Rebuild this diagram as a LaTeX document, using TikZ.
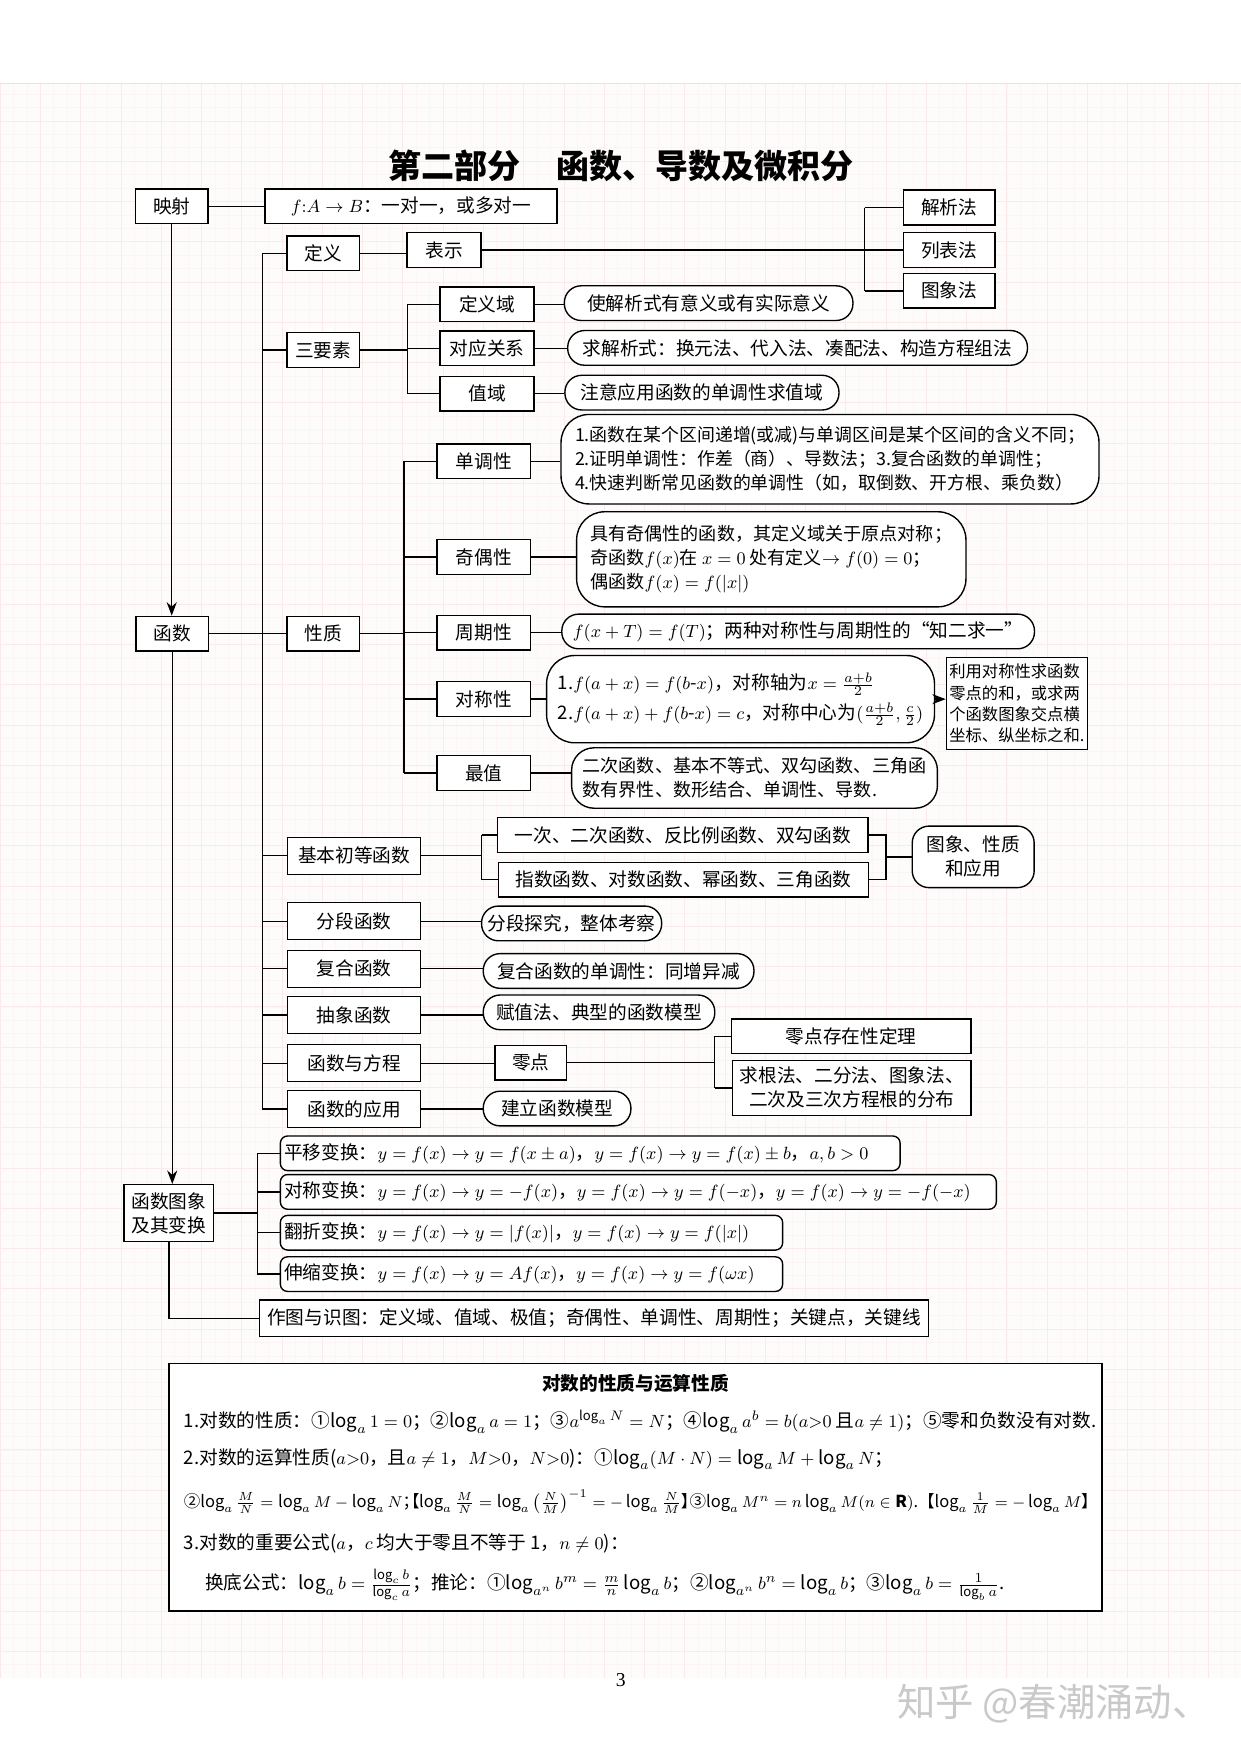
\documentclass[tikz,border=0pt]{standalone}
\usepackage{amsmath}
\usepackage{amssymb}
\usepackage{fontspec}
\setmainfont{Noto Sans CJK SC}
\newfontfamily\cjkpalt[RawFeature=+palt]{Noto Sans CJK SC}
\newfontfamily\serifdigits{Liberation Serif}
\usetikzlibrary{arrows.meta}
\newcommand{\lbk}{{\cjkpalt 【}}
\newcommand{\rbk}{{\cjkpalt 】}}
\newcommand{\semi}{{\cjkpalt ；}}
\tikzset{
    plain-box/.style = {draw=black, fill=white, line width=0.7pt, rectangle, inner sep=1pt, minimum width=#1*0.2mm, minimum height=31*0.2mm},
    pill-box/.style = {plain-box=#1, rounded corners=3mm, align=left, inner xsep=2mm},
    soft-box/.style = {plain-box=#1, rounded corners=1.3mm, anchor=west, inner xsep=2pt, align=left},
    tall/.style = {minimum height=#1*0.2mm},
    link/.style = {line width=0.7pt},
    link-arrow/.style = {link, -{Stealth[length=2.4mm, width=1.8mm]}},
    page-tint/.style = {fill={rgb,255:red,254;green,251;blue,251}},
    grid-minor/.style = {draw={rgb,255:red,253;green,244;blue,245}, line width=0.25pt},
    grid-major/.style = {draw={rgb,255:red,250;green,234;blue,236}, line width=0.3pt},
}

\begin{document}
\begin{tikzpicture}[x=0.2mm, y=-0.2mm, font=\fontsize{9.5}{12.2}\selectfont]
\useasboundingbox (0,0) rectangle (1109,1568);
\fill[white] (0,0) rectangle (1109,1568);
\fill[page-tint] (0,75) rectangle (1109,1500);
\draw[grid-minor, step=2.4mm] (0,75) grid (1109,1500);
\draw[grid-major, step=7.2mm] (0,75) grid (1109,1500);
\draw[gray!20, line width=0.6pt] (0,75) -- (1109,75);

\node[font=\fontsize{16.8}{20}\selectfont\bfseries] (title) at (555,148) {第二部分\hspace{1.1em}函数、导数及微积分};

\node[plain-box=65] (yingshe) at (153.5,184.5) {映射};
\node[plain-box=261] (fab) at (367.5,184.5) {$f{:}A\to B$：一对一，或多对一};
\node[plain-box=82] (jiexi) at (848.5,185.5) {解析法};
\node[plain-box=82] (liebiao) at (848.5,223.5) {列表法};
\node[plain-box=82] (tuxf) at (848.5,260) {图象法};
\node[plain-box=65] (dingyi) at (289,226.5) {定义};
\node[plain-box=66] (biaoshi) at (397,223.5) {表示};

\node[plain-box=65] (sanys) at (289,313) {三要素};
\node[plain-box=84] (dyy) at (435.5,272) {定义域};
\node[plain-box=84] (dygx) at (435.5,311.5) {对应关系};
\node[plain-box=84] (zhiyu) at (435.5,352) {值域};
\node[pill-box=258] (dyytip) at (633.5,271) {使解析式有意义或有实际意义};
\node[pill-box=411] (dygxtip) at (713,311) {求解析式：换元法、代入法、凑配法、构造方程组法};
\node[pill-box=245] (zhiyutip) at (627.5,351) {注意应用函数的单调性求值域};

\node[plain-box=65] (hanshu) at (154,566.5) {函数};
\node[plain-box=65] (xingzhi) at (289,566.5) {性质};
\node[plain-box=84] (danjiao) at (432.5,412.5) {单调性};
\node[plain-box=84] (jiou) at (432.5,498) {奇偶性};
\node[plain-box=84] (zhouqi) at (432.5,565.5) {周期性};
\node[plain-box=84] (duichen) at (432.5,625) {对称性};
\node[plain-box=84] (zuizhi) at (432.5,691) {最值};
\node[pill-box=480, tall=80, rounded corners=5mm, inner xsep=2.5mm, font=\fontsize{9.1}{12.2}\selectfont] (dantip) at (742,410.5) {1.函数在某个区间递增(或减)与单调区间是某个区间的含义不同；\\2.证明单调性：作差（商）、导数法；3.复合函数的单调性；\\4.快速判断常见函数的单调性（如，取倒数、开方根、乘负数）};
\node[pill-box=348, tall=85, rounded corners=5mm, font=\fontsize{9.2}{12.2}\selectfont] (joutip) at (689.5,500) {具有奇偶性的函数，其定义域关于原点对称；\\奇函数$f(x)$在 $x=0$ 处有定义$\to f(0)=0$；\\偶函数$f(x)=f(|x|)$};
\node[pill-box=411] (zhoutip) at (713.5,564.5) {$f(x+T)=f(T)$；两种对称性与周期性的“知二求一”};
\node[pill-box=306, tall=78, rounded corners=5mm] (duitip) at (662,625) {1.$f(a+x)=f(b\text{-}x)$，对称轴为$x=\frac{a+b}{2}$\\[3pt]2.$f(a+x)+f(b\text{-}x)=c$，对称中心为$(\frac{a+b}{2},\frac{c}{2})$};
\node[plain-box=126, tall=82, align=left, font=\fontsize{8.3}{10.8}\selectfont] (duinote) at (909,629) {利用对称性求函数\\零点的和，或求两\\个函数图象交点横\\坐标、纵坐标之和.};
\node[pill-box=327, tall=54, rounded corners=4mm, inner xsep=1.2mm, font=\fontsize{9.2}{12.2}\selectfont] (zuitip) at (674.5,695.5) {二次函数、基本不等式、双勾函数、三角函\\数有界性、数形结合、单调性、导数.};

\node[plain-box=119, tall=33] (jiben) at (316.5,765) {基本初等函数};
\node[plain-box=331] (ecls1) at (610.5,746.5) {一次、二次函数、反比例函数、双勾函数};
\node[plain-box=331] (ecls2) at (611,786.5) {指数函数、对数函数、幂函数、三角函数};
\node[pill-box=109, tall=55, align=center] (tuxz) at (870,766) {图象、性质\\和应用};
\node[plain-box=119, tall=33] (fenduan) at (316.5,823.5) {分段函数};
\node[pill-box=161, inner xsep=1mm] (fdtip) at (511,825.5) {分段探究，整体考察};
\node[plain-box=119, tall=33] (fuhe) at (316.5,866) {复合函数};
\node[pill-box=242] (fhtip) at (553,868) {复合函数的单调性：同增异减};
\node[plain-box=119, tall=33] (chouxiang) at (316.5,907.5) {抽象函数};
\node[pill-box=207] (cxtip) at (535.5,905) {赋值法、典型的函数模型};
\node[plain-box=119, tall=33] (fangcheng) at (316.5,950.5) {函数与方程};
\node[plain-box=64] (lingdian) at (474.5,950) {零点};
\node[plain-box=214] (lingcun) at (761,926.5) {零点存在性定理};
\node[plain-box=213, tall=49, align=center] (qiugen) at (761.5,972.5) {求根法、二分法、图象法、\\二次及三次方程根的分布};
\node[plain-box=119, tall=33] (yingyong) at (316.5,991.5) {函数的应用};
\node[pill-box=132] (yytip) at (498,991) {建立函数模型};

\node[plain-box=80, tall=51, align=center] (tuxbh) at (151,1084.5) {函数图象\\及其变换};
\node[soft-box=554, text width=109.4mm] (pingyi) at (250,1031) {平移变换：$y=f(x)\to y=f(x\pm a)$，$y=f(x)\to y=f(x)\pm b$，$a,b>0$};
\node[soft-box=640, text width=126.6mm] (duichenbh) at (250,1065.5) {对称变换：$y=f(x)\to y=-f(x)$，$y=f(x)\to y=f(-x)$，$y=f(x)\to y=-f(-x)$};
\node[soft-box=449, text width=88.4mm] (fanzhe) at (250,1102) {翻折变换：$y=f(x)\to y=|f(x)|$，$y=f(x)\to y=f(|x|)$};
\node[soft-box=449, text width=88.4mm] (shensuo) at (250,1139) {伸缩变换：$y=f(x)\to y=Af(x)$，$y=f(x)\to y=f(\omega x)$};
\node[plain-box=598, tall=33, anchor=west] (zuotu) at (231.5,1178.5) {作图与识图：定义域、值域、极值；奇偶性、单调性、周期性；关键点，关键线};

\coordinate (trunk) at (234.5,0);
\coordinate (mbr) at (773,0);
\coordinate (sbr) at (364.5,0);
\coordinate (xbr) at (361,0);
\coordinate (ebrl) at (430.5,0);
\coordinate (ebrr) at (792,0);
\coordinate (zbr) at (639,0);
\coordinate (tbr) at (230,0);

\draw[link] (yingshe.east) -- (fab.west);
\draw[link-arrow] (yingshe.south) -- (yingshe.south |- hanshu.north);
\draw[link-arrow] (hanshu.south) -- (hanshu.south |- tuxbh.north);
\draw[link] (tuxbh.south) |- (zuotu.west);
\draw[link] (dingyi.west -| trunk) -- (yingyong.west -| trunk);
\foreach \n in {dingyi, sanys, xingzhi, jiben, fenduan, fuhe, chouxiang, fangcheng, yingyong}
    \draw[link] (\n.west -| trunk) -- (\n.west);
\draw[link] (hanshu.east) -- (xingzhi.west);
\draw[link] (dingyi.east) -- (dingyi.east -| biaoshi.west);
\draw[link] (biaoshi.east) -- (biaoshi.east -| liebiao.west);
\draw[link] (jiexi.west -| mbr) -- (tuxf.west -| mbr);
\foreach \n in {jiexi, tuxf}
    \draw[link] (\n.west -| mbr) -- (\n.west);

\draw[link] (sanys.east) -- (sanys.east -| sbr);
\draw[link] (dyy.west -| sbr) -- (zhiyu.west -| sbr);
\foreach \n/\t in {dyy/dyytip, dygx/dygxtip, zhiyu/zhiyutip} {
    \draw[link] (\n.west -| sbr) -- (\n.west);
    \draw[link] (\n.east) -- (\n.east -| \t.west);
}

\draw[link] (xingzhi.east) -- (xingzhi.east -| xbr);
\draw[link] (danjiao.west -| xbr) -- (zuizhi.west -| xbr);
\foreach \n/\t in {danjiao/dantip, jiou/joutip, zhouqi/zhoutip, duichen/duitip, zuizhi/zuitip} {
    \draw[link] (\n.west -| xbr) -- (\n.west);
    \draw[link] (\n.east) -- (\n.east -| \t.west);
}
\draw[link-arrow] (duitip.east) -- (duitip.east -| duinote.west);

\draw[link] (jiben.east) -- (jiben.east -| ebrl);
\draw[link] (ecls1.west -| ebrl) -- (ecls2.west -| ebrl);
\foreach \n in {ecls1, ecls2}
    \draw[link] (\n.west -| ebrl) -- (\n.west);
\draw[link] (ecls1.east) -- (ecls1.east -| ebrr) -- (ecls2.east -| ebrr) -- (ecls2.east);
\draw[link] (tuxz.west -| ebrr) -- (tuxz.west);
\foreach \n/\t in {fenduan/fdtip, fuhe/fhtip, chouxiang/cxtip, yingyong/yytip}
    \draw[link] (\n.east) -- (\n.east -| \t.west);
\draw[link] (fangcheng.east) -- (fangcheng.east -| lingdian.west);
\draw[link] (lingdian.east) -- (lingdian.east -| zbr);
\draw[link] (lingcun.west -| zbr) -- (qiugen.west -| zbr);
\foreach \n in {lingcun, qiugen}
    \draw[link] (\n.west -| zbr) -- (\n.west);

\draw[link] (tuxbh.east) -- (tuxbh.east -| tbr);
\draw[link] (pingyi.west -| tbr) -- (shensuo.west -| tbr);
\foreach \n in {pingyi, duichenbh, fanzhe, shensuo}
    \draw[link] (\n.west -| tbr) -- (\n.west);

\draw[line width=0.7pt, fill=white] (151,1219) rectangle (985,1440);
\node[font=\fontsize{9.5}{12}\selectfont\bfseries] (logtitle) at (568,1237) {对数的性质与运算性质};
\node[anchor=west, inner sep=0pt] (logl1) at (164,1271) {1.对数的性质：①$\log_a 1=0$；②$\log_a a=1$；③$a^{\log_a N}=N$；④$\log_a a^b=b(a{>}0$ 且$a\neq1)$；⑤零和负数没有对数.};
\node[anchor=west, inner sep=0pt] (logl2) at (164,1304.5) {2.对数的运算性质($a{>}0$，且$a\neq1$，$M{>}0$，$N{>}0$)：①$\log_a(M\cdot N)=\log_a M+\log_a N$；};
\node[anchor=west, inner sep=0pt, font=\fontsize{8.4}{12}\selectfont] (logl3) at (164,1342.5) {②$\log_a\frac{M}{N}=\log_a M-\log_a N$\semi\lbk$\log_a\frac{M}{N}=\log_a\left(\frac{N}{M}\right)^{-1}=-\log_a\frac{N}{M}$\rbk③$\log_a M^n=n\log_a M(n\in\mathbf{R})$.【$\log_a\frac{1}{M}=-\log_a M$\rbk};
\node[anchor=west, inner sep=0pt] (logl4) at (164,1380) {3.对数的重要公式($a$，$c$ 均大于零且不等于 1，$n\neq0$)：};
\node[anchor=west, inner sep=0pt] (logl5) at (183,1417) {换底公式：$\log_a b=\frac{\log_c b}{\log_c a}$；推论：①$\log_{a^n}b^m=\frac{m}{n}\log_a b$；②$\log_{a^n}b^n=\log_a b$；③$\log_a b=\frac{1}{\log_b a}$.};

\node[font=\serifdigits\fontsize{10}{12}\selectfont] (pagenum) at (555,1502) {3};
\node[text=gray!42, font=\fontsize{19.5}{20}\selectfont] (mark) at (942,1523) {知乎 @春潮涌动、};
\end{tikzpicture}
\end{document}
